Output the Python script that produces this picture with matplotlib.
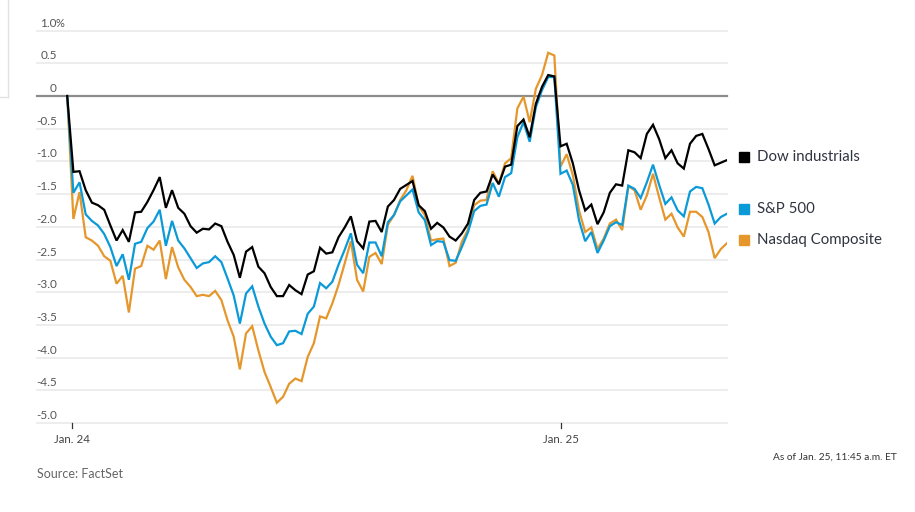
import matplotlib
matplotlib.use("Agg")
import matplotlib.pyplot as plt
import matplotlib.transforms as mtransforms
from matplotlib.lines import Line2D
from matplotlib import font_manager
import numpy as np

# % change, 5-minute intervals, Jan. 24 open through Jan. 25 11:45 a.m.
dow = [0, -1.16, -1.15, -1.44, -1.63, -1.67, -1.74, -1.98, -2.21, -2.05,
       -2.23, -1.78, -1.77, -1.62, -1.44, -1.24, -1.71, -1.44, -1.71, -1.80,
       -1.99, -2.09, -2.03, -2.04, -1.95, -1.99, -2.23, -2.43, -2.78, -2.38,
       -2.31, -2.61, -2.71, -2.92, -3.06, -3.06, -2.89, -2.97, -3.03, -2.73,
       -2.68, -2.32, -2.41, -2.39, -2.16, -2.01, -1.84, -2.22, -2.33, -1.92,
       -1.91, -2.08, -1.69, -1.59, -1.42, -1.36, -1.30, -1.67, -1.76, -2.03,
       -1.94, -2.01, -2.15, -2.21, -2.10, -1.95, -1.59, -1.48, -1.46, -1.20,
       -1.35, -1.08, -1.05, -0.46, -0.36, -0.63, -0.12, 0.14, 0.32, 0.30,
       -0.77, -0.73, -1.03, -1.44, -1.75, -1.66, -1.96, -1.78, -1.48, -1.35,
       -1.37, -0.83, -0.86, -0.95, -0.58, -0.44, -0.66, -0.95, -0.83, -1.03,
       -1.11, -0.73, -0.61, -0.58, -0.81, -1.06, -1.02, -0.98]

sp500 = [0, -1.48, -1.32, -1.81, -1.91, -1.98, -2.11, -2.31, -2.60, -2.42,
         -2.81, -2.26, -2.23, -2.02, -1.92, -1.74, -2.29, -1.91, -2.21, -2.33,
         -2.48, -2.63, -2.56, -2.54, -2.45, -2.54, -2.79, -3.05, -3.48, -3.02,
         -2.91, -3.22, -3.48, -3.68, -3.81, -3.78, -3.60, -3.59, -3.64, -3.33,
         -3.22, -2.86, -2.94, -2.84, -2.58, -2.35, -2.10, -2.58, -2.71, -2.24,
         -2.24, -2.45, -1.93, -1.82, -1.61, -1.52, -1.43, -1.78, -1.90, -2.28,
         -2.22, -2.23, -2.51, -2.52, -2.31, -2.08, -1.76, -1.68, -1.66, -1.33,
         -1.54, -1.24, -1.18, -0.63, -0.40, -0.70, -0.17, 0.09, 0.29, 0.29,
         -1.19, -1.14, -1.36, -1.90, -2.22, -2.08, -2.40, -2.21, -1.99, -1.93,
         -1.97, -1.37, -1.42, -1.56, -1.32, -1.05, -1.36, -1.65, -1.55, -1.75,
         -1.84, -1.46, -1.39, -1.41, -1.66, -1.95, -1.85, -1.80]

nasdaq = [0, -1.88, -1.47, -2.16, -2.21, -2.29, -2.45, -2.52, -2.87, -2.75,
          -3.31, -2.64, -2.60, -2.29, -2.35, -2.21, -2.80, -2.31, -2.62, -2.81,
          -2.92, -3.06, -3.04, -3.06, -2.98, -3.12, -3.43, -3.68, -4.18, -3.63,
          -3.52, -3.89, -4.22, -4.45, -4.69, -4.60, -4.40, -4.32, -4.36, -3.99,
          -3.78, -3.37, -3.40, -3.17, -2.89, -2.56, -2.22, -2.81, -2.99, -2.46,
          -2.40, -2.57, -1.97, -1.82, -1.59, -1.44, -1.22, -1.68, -1.82, -2.21,
          -2.19, -2.18, -2.60, -2.55, -2.23, -2.04, -1.67, -1.60, -1.59, -1.15,
          -1.34, -1.03, -0.95, -0.19, -0.01, -0.40, 0.11, 0.32, 0.66, 0.62,
          -1.08, -0.89, -1.21, -1.75, -2.08, -2.01, -2.34, -2.18, -1.95, -1.89,
          -2.05, -1.38, -1.44, -1.74, -1.52, -1.19, -1.55, -1.89, -1.80, -2.01,
          -2.15, -1.77, -1.77, -1.85, -2.08, -2.48, -2.34, -2.25]

series_names = ["Dow industrials", "S&P 500", "Nasdaq Composite"]
series_colors = ["#000000", "#0b9ad8", "#e5972c"]
label_nudge = [0.05, 0.07, 0.05]

y_ticks = [1.0, 0.5, 0, -0.5, -1.0, -1.5, -2.0, -2.5, -3.0, -3.5, -4.0, -4.5, -5.0]
y_labels = ["1.0", "0.5", "0", "-0.5", "-1.0", "-1.5", "-2.0", "-2.5", "-3.0",
            "-3.5", "-4.0", "-4.5", "-5.0"]
x_tick_pos = [0.75, 80.1]
x_tick_labels = ["Jan. 24", "Jan. 25"]


def pick_font(names):
    for n in names:
        try:
            font_manager.findfont(n, fallback_to_default=False)
            return n
        except Exception:
            pass
    return "DejaVu Sans"


MAIN_FONT = pick_font(["Lato", "Open Sans"])
NARROW_FONT = pick_font(["Liberation Sans Narrow", "Lato"])

W, H = 915, 512
fig = plt.figure(figsize=(W / 100, H / 100), dpi=100)
fig.patch.set_facecolor("white")

left, right, top, bottom = 37, 727, 30.6, 423
ax = fig.add_axes([left / W, 1 - bottom / H, (right - left) / W, (bottom - top) / H])
ax.set_xlim(-4.9, 107)
ax.set_ylim(-5.0, 1.0)
ax.axis("off")

# gridlines
for v in y_ticks:
    if v == 0:
        continue
    ax.axhline(v, color="#ececec", lw=1.3, zorder=1, clip_on=False)
ax.axhline(0, color="#8c8c8c", lw=1.6, zorder=2, clip_on=False)

# y labels sit above their gridline, right-aligned at x=57px
lab_x = (57 - left) / (right - left)
offset = mtransforms.ScaledTranslation(0, 2 / 100, fig.dpi_scale_trans)
ytrans = ax.get_yaxis_transform() + offset
for v, s in zip(y_ticks, y_labels):
    ax.text(lab_x, v, s, transform=ytrans, ha="right", va="bottom",
            fontsize=8.5, color="#555555", family=MAIN_FONT)
pct_trans = ytrans + mtransforms.ScaledTranslation(-1.5 / 100, 0, fig.dpi_scale_trans)
ax.text(lab_x, y_ticks[0], "%", transform=pct_trans, ha="left", va="bottom",
        fontsize=8, color="#555555", family=MAIN_FONT)

# x ticks
xtrans = ax.get_xaxis_transform()
for p, s in zip(x_tick_pos, x_tick_labels):
    ax.plot([p, p], [0, -0.012], transform=xtrans, color="#333333", lw=0.9,
            clip_on=False)
    ax.text(p, -0.027, s, transform=xtrans, ha="center", va="top",
            fontsize=8.3, color="#444444", family=NARROW_FONT)

x = np.arange(len(dow))
all_series = [dow, sp500, nasdaq]
for vals, c, z in zip(all_series[::-1], series_colors[::-1], [3, 4, 5]):
    ax.plot(x, vals, color=c, lw=1.6, zorder=z, solid_joinstyle="miter")

# end labels
for vals, name, c, nudge in zip(all_series, series_names, series_colors, label_nudge):
    yv = vals[-1] + nudge
    ax.plot([109.8], [yv], marker="s", ms=7.2, color=c, clip_on=False,
            linestyle="none")
    ax.text(111.9, yv, name, ha="left", va="center", fontsize=10.8,
            color="#2f3440", family=MAIN_FONT, clip_on=False)

fig.text(897 / W, 1 - 457 / H, "As of Jan. 25, 11:45 a.m. ET", ha="right",
         va="center", fontsize=7.3, color="#333333", family=NARROW_FONT)
fig.text(37 / W, 1 - 474 / H, "Source: FactSet", ha="left", va="center",
         fontsize=9, color="#666666", family=MAIN_FONT)

# faint frame remnant top-left
fig.add_artist(Line2D([8 / W, 8 / W], [1, 1 - 97 / H], color="#e2e2e2", lw=1))
fig.add_artist(Line2D([0, 8 / W], [1 - 97 / H, 1 - 97 / H], color="#e2e2e2", lw=1))

fig.savefig("out.png", dpi=100, facecolor="white")
